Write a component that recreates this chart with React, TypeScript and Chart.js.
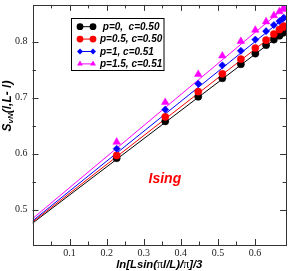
import React, { useEffect, useRef } from 'react';
import { Chart, registerables } from 'chart.js';

Chart.register(...registerables);

// x = ln[L sin(pi l / L) / pi] / 3
const xValues = [0.227, 0.358, 0.447, 0.512, 0.562, 0.601, 0.630, 0.651, 0.666, 0.675, 0.678];
const sP0 = [0.592, 0.658, 0.702, 0.735, 0.760, 0.779, 0.794, 0.804, 0.811, 0.816, 0.818];
const sP05 = [0.597, 0.666, 0.711, 0.743, 0.769, 0.789, 0.803, 0.814, 0.822, 0.826, 0.828];
const sP1 = [0.609, 0.679, 0.725, 0.758, 0.784, 0.804, 0.819, 0.830, 0.837, 0.841, 0.843];
const sP15 = [0.621, 0.692, 0.742, 0.775, 0.801, 0.821, 0.836, 0.847, 0.854, 0.858, 0.860];

// fitted lines (endpoints)
const fitX = [0, 0.68];
const fitP0 = [0.476, 0.818];
const fitP05 = [0.478, 0.828];
const fitP1 = [0.480, 0.843];
const fitP15 = [0.484, 0.861];

const seriesLabels = [' p=0,  c=0.50', 'p=0.5, c=0.50', 'p=1, c=0.51', 'p=1.5, c=0.51'];
const seriesColors = ['#000000', '#ff0000', '#0000ff', '#ff00ff'];
const seriesStyles = ['circle', 'circle', 'rectRot', 'triangle'];

const xTickLabels = [0.1, 0.2, 0.3, 0.4, 0.5, 0.6];
const yTickLabels = [0.5, 0.6, 0.7, 0.8];

const annotationText = 'Ising';
const annotationPos = { x: 0.357, y: 0.555 };

const near = (a: number, b: number) => Math.abs(a - b) < 1e-6;

function drawMarker(ctx: CanvasRenderingContext2D, style: string, x: number, y: number, r: number, color: string) {
  ctx.save();
  ctx.fillStyle = color;
  ctx.beginPath();
  if (style === 'circle') {
    ctx.arc(x, y, r, 0, Math.PI * 2);
  } else if (style === 'rectRot') {
    ctx.moveTo(x, y - r);
    ctx.lineTo(x + r, y);
    ctx.lineTo(x, y + r);
    ctx.lineTo(x - r, y);
    ctx.closePath();
  } else {
    ctx.moveTo(x, y - r);
    ctx.lineTo(x + r * 0.866, y + r * 0.5);
    ctx.lineTo(x - r * 0.866, y + r * 0.5);
    ctx.closePath();
  }
  ctx.fill();
  ctx.restore();
}

type Seg = { t: string; font: string; dy?: number };

function drawSegments(ctx: CanvasRenderingContext2D, segs: Seg[], cx: number, cy: number) {
  let total = 0;
  const widths = segs.map((s) => {
    ctx.font = s.font;
    const w = ctx.measureText(s.t).width;
    total += w;
    return w;
  });
  let x = cx - total / 2;
  ctx.textAlign = 'left';
  ctx.textBaseline = 'middle';
  segs.forEach((s, i) => {
    ctx.font = s.font;
    ctx.fillText(s.t, x, cy + (s.dy || 0));
    x += widths[i];
  });
}

const framePlugin = {
  id: 'framePlugin',
  afterDraw(chart: any) {
    const ctx: CanvasRenderingContext2D = chart.ctx;
    const { left, right, top, bottom } = chart.chartArea;
    const xs = chart.scales.x;
    const ys = chart.scales.y;
    ctx.save();
    ctx.strokeStyle = '#333333';
    ctx.lineWidth = 1;
    ctx.strokeRect(Math.round(left) + 0.5, Math.round(top) + 0.5, Math.round(right - left) - 1, Math.round(bottom - top));

    const major = 6;
    const minor = 3.5;
    ctx.beginPath();
    xs.ticks.forEach((t: any) => {
      const v = t.value;
      const k = v / 0.05;
      if (Math.abs(k - Math.round(k)) > 1e-6) return;
      if (v <= xs.min + 1e-6 || v >= xs.max - 1e-6) return;
      const isMajor = Math.abs(v / 0.1 - Math.round(v / 0.1)) < 1e-6;
      const len = isMajor ? major : minor;
      const px = Math.round(xs.getPixelForValue(v)) + 0.5;
      ctx.moveTo(px, bottom);
      ctx.lineTo(px, bottom - len);
      ctx.moveTo(px, top);
      ctx.lineTo(px, top + len);
    });
    ys.ticks.forEach((t: any) => {
      const v = t.value;
      const k = v / 0.05;
      if (Math.abs(k - Math.round(k)) > 1e-6) return;
      if (v <= ys.min + 1e-6 || v >= ys.max - 1e-6) return;
      const isMajor = Math.abs(v / 0.1 - Math.round(v / 0.1)) < 1e-6;
      const len = isMajor ? major : minor;
      const py = Math.round(ys.getPixelForValue(v)) + 0.5;
      ctx.moveTo(left, py);
      ctx.lineTo(left + len, py);
      ctx.moveTo(right, py);
      ctx.lineTo(right - len, py);
    });
    ctx.stroke();

    // Annotation
    ctx.fillStyle = '#ff0000';
    ctx.font = 'italic bold 14px "Liberation Sans", Arial, sans-serif';
    ctx.textAlign = 'center';
    ctx.textBaseline = 'middle';
    ctx.fillText(annotationText, xs.getPixelForValue(annotationPos.x), ys.getPixelForValue(annotationPos.y));

    // Legend
    const bx = 71.5, by = 18.5, bw = 92.5, bh = 52;
    ctx.fillStyle = '#ffffff';
    ctx.fillRect(bx, by, bw, bh);
    ctx.strokeStyle = '#000000';
    ctx.strokeRect(bx, by, bw, bh);
    const rows = [26.7, 39.1, 51.5, 63.9];
    seriesLabels.forEach((lab, i) => {
      const y = rows[i];
      ctx.strokeStyle = seriesColors[i];
      ctx.beginPath();
      ctx.moveTo(80, y);
      ctx.lineTo(93, y);
      ctx.stroke();
      const r = seriesStyles[i] === 'rectRot' ? 3 : 3.4;
      drawMarker(ctx, seriesStyles[i], 80, y, r, seriesColors[i]);
      drawMarker(ctx, seriesStyles[i], 93, y, r, seriesColors[i]);
      ctx.fillStyle = '#000000';
      ctx.font = 'italic bold 10px "Liberation Sans", Arial, sans-serif';
      ctx.textAlign = 'left';
      ctx.textBaseline = 'middle';
      ctx.fillText(lab, 100, y + 0.5);
    });

    // Axis titles
    ctx.fillStyle = '#000000';
    const bi = (s: number) => `italic bold ${s}px "Liberation Sans", Arial, sans-serif`;
    const sym = (s: number) => `${s}px "Liberation Serif", "DejaVu Serif", serif`;
    drawSegments(
      ctx,
      [
        { t: 'ln[Lsin(', font: bi(11.3) },
        { t: 'π', font: sym(12) },
        { t: 'l/L)/', font: bi(11.3) },
        { t: 'π', font: sym(12) },
        { t: ']/3', font: bi(11.3) },
      ],
      (left + right) / 2,
      265
    );
    ctx.save();
    ctx.translate(7.5, 106);
    ctx.rotate(-Math.PI / 2);
    drawSegments(
      ctx,
      [
        { t: 'S', font: bi(12) },
        { t: 'vN', font: bi(8), dy: 3 },
        { t: '(l,L- l)', font: bi(12) },
      ],
      0,
      0
    );
    ctx.restore();
    ctx.restore();
  },
};

export default function App() {
  const ref = useRef<HTMLCanvasElement | null>(null);

  useEffect(() => {
    if (!ref.current) return;
    const mk = (arr: number[]) => xValues.map((x, i) => ({ x, y: arr[i] }));
    const fit = (arr: number[]) => fitX.map((x, i) => ({ x, y: arr[i] }));
    const pointSets = [sP0, sP05, sP1, sP15];
    const fitSets = [fitP0, fitP05, fitP1, fitP15];
    const radii = [3.6, 3.6, 3.6, 4.4];

    const datasets: any[] = [];
    fitSets.forEach((arr, i) => {
      datasets.push({
        label: seriesLabels[i] + ' fit',
        data: fit(arr),
        showLine: true,
        borderColor: seriesColors[i],
        borderWidth: 1,
        pointRadius: 0,
        order: 8 - i,
      });
    });
    pointSets.forEach((arr, i) => {
      datasets.push({
        label: seriesLabels[i],
        data: mk(arr),
        showLine: false,
        pointStyle: seriesStyles[i],
        pointRadius: radii[i],
        pointBackgroundColor: seriesColors[i],
        pointBorderColor: seriesColors[i],
        pointBorderWidth: 0.5,
        order: 4 - i,
      });
    });

    const chart = new Chart(ref.current, {
      type: 'scatter',
      data: { datasets },
      options: {
        animation: false,
        responsive: false,
        devicePixelRatio: 1,
        layout: { padding: { top: 2, right: 2, left: 0, bottom: 0 } },
        plugins: { legend: { display: false }, tooltip: { enabled: false } },
        scales: {
          x: {
            type: 'linear',
            min: 0,
            max: 0.684,
            afterFit: (s: any) => {
              s.height = 26;
              s.paddingLeft = 0;
              s.paddingRight = 0;
            },
            grid: { display: false, drawTicks: false },
            border: { display: false },
            ticks: {
              stepSize: 0.05,
              autoSkip: false,
              maxRotation: 0,
              padding: 2,
              color: '#222222',
              font: { family: '"Liberation Serif", serif', size: 10 },
              callback: (v: any) => {
                const f = xTickLabels.find((t) => near(t, Number(v)));
                return f === undefined ? '' : f.toFixed(1);
              },
            },
          },
          y: {
            type: 'linear',
            min: 0.437,
            max: 0.866,
            afterFit: (s: any) => {
              s.width = 32.5;
              s.paddingTop = 0;
              s.paddingBottom = 0;
            },
            grid: { display: false, drawTicks: false },
            border: { display: false },
            ticks: {
              stepSize: 0.05,
              autoSkip: false,
              padding: 5,
              color: '#222222',
              font: { family: '"Liberation Serif", serif', size: 10 },
              callback: (v: any) => {
                const f = yTickLabels.find((t) => near(t, Number(v)));
                return f === undefined ? '' : f.toFixed(1);
              },
            },
          },
        },
      },
      plugins: [framePlugin],
    });
    return () => chart.destroy();
  }, []);

  return (
    <div style={{ position: 'fixed', left: 0, top: 0, width: 291, height: 271, background: '#fff' }}>
      <canvas ref={ref} width={291} height={271} style={{ display: 'block', width: 291, height: 271 }} />
    </div>
  );
}
